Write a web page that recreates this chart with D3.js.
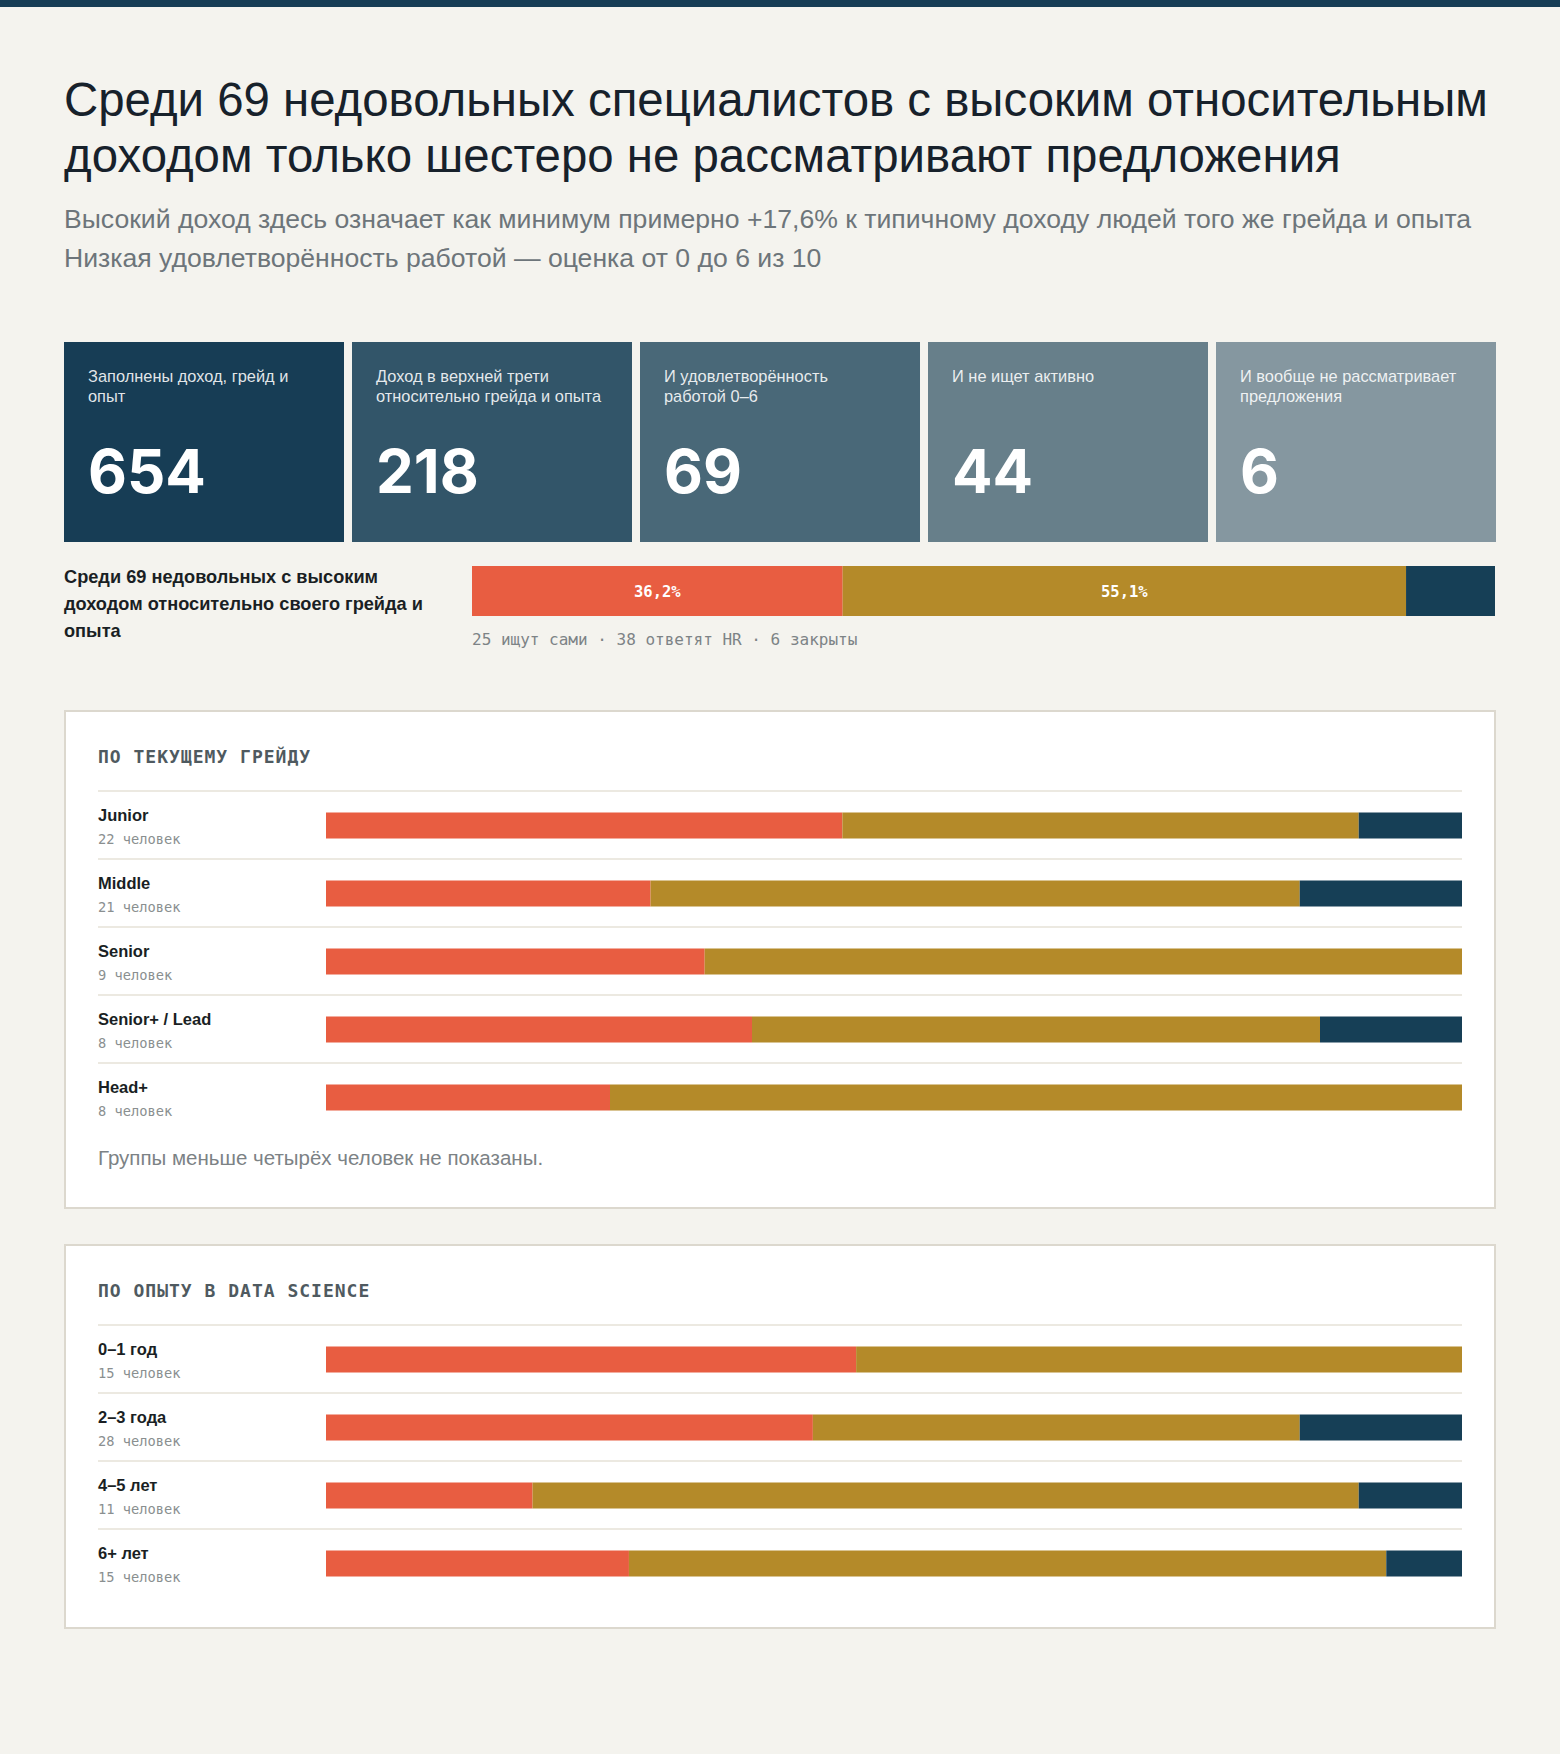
<!DOCTYPE html>
<html lang="ru">
<head>
<meta charset="utf-8">
<script src="https://cdn.jsdelivr.net/npm/d3@7"></script>
<style>
  body { margin: 0; background: #f4f3ee; }
  svg { display: block; }
</style>
</head>
<body>
<svg width="1560" height="1754"></svg>
<script>
// данные
const cardLabels = [
    ["Заполнены доход, грейд и", "опыт"],
    ["Доход в верхней трети", "относительно грейда и опыта"],
    ["И удовлетворённость", "работой 0–6"],
    ["И не ищет активно"],
    ["И вообще не рассматривает", "предложения"]
];
const cardValues = [654, 218, 69, 44, 6];

const statusKeys = ["self", "hr", "closed"];
const statusNames = ["ищут сами", "ответят HR", "закрыты"];
const summaryCounts = [25, 38, 6];

const gradeLabels = ["Junior", "Middle", "Senior", "Senior+ / Lead", "Head+"];
const gradeSelf   = [10, 6, 3, 3, 2];
const gradeHR     = [10, 12, 6, 4, 6];
const gradeClosed = [2, 3, 0, 1, 0];

const expLabels = ["0–1 год", "2–3 года", "4–5 лет", "6+ лет"];
const expSelf   = [7, 12, 2, 4];
const expHR     = [8, 12, 8, 10];
const expClosed = [0, 4, 1, 1];

const titleLines = [
    "Среди 69 недовольных специалистов с высоким относительным",
    "доходом только шестеро не рассматривают предложения"
];
const subtitleLines = [
    "Высокий доход здесь означает как минимум примерно +17,6% к типичному доходу людей того же грейда и опыта",
    "Низкая удовлетворённость работой — оценка от 0 до 6 из 10"
];
const summaryLabel = ["Среди 69 недовольных с высоким", "доходом относительно своего грейда и", "опыта"];
const footnote = "Группы меньше четырёх человек не показаны.";

// оформление
const colors = { self: "#e85d41", hr: "#b48a29", closed: "#163f56" };
const cardColors = ["#173d55", "#325569", "#496878", "#677f8a", "#8597a0"];
const SANS = "'Liberation Sans', Arial, sans-serif";
const NUM = "Inter, 'Liberation Sans', sans-serif";
const MONO = "'DejaVu Sans Mono', monospace";

const svg = d3.select("svg");

svg.append("rect").attr("width", 1560).attr("height", 1754).attr("fill", "#f4f3ee");
svg.append("rect").attr("x", 0).attr("y", 0).attr("width", 1560).attr("height", 7).attr("fill", "#173d55");

// заголовок
svg.append("g").selectAll("text")
    .data(titleLines)
    .join("text")
    .attr("x", 64)
    .attr("y", (d, i) => 116 + i * 56)
    .attr("font-family", SANS)
    .attr("font-size", 47.4)
    .attr("fill", "#17212b")
    .text(d => d);

svg.append("g").selectAll("text")
    .data(subtitleLines)
    .join("text")
    .attr("x", 64)
    .attr("y", (d, i) => 228 + i * 39)
    .attr("font-family", SANS)
    .attr("font-size", 26.6)
    .attr("fill", "#6d757a")
    .text(d => d);

// карточки воронки
const cardX = d3.scaleBand()
    .domain(d3.range(cardValues.length))
    .range([64, 1496])
    .paddingInner(8 / 288);

const cards = svg.append("g").selectAll("g")
    .data(cardValues)
    .join("g")
    .attr("transform", (d, i) => `translate(${cardX(i)}, 342)`);

cards.append("rect")
    .attr("width", cardX.bandwidth())
    .attr("height", 200)
    .attr("fill", (d, i) => cardColors[i]);

cards.each(function(d, i) {
    d3.select(this).selectAll("text.lbl")
        .data(cardLabels[i])
        .join("text")
        .attr("class", "lbl")
        .attr("x", 24)
        .attr("y", (t, j) => 40 + j * 20)
        .attr("font-family", SANS)
        .attr("font-size", 16.4)
        .attr("fill", "rgba(255,255,255,0.88)")
        .text(t => t);
});

cards.append("text")
    .attr("x", 24)
    .attr("y", 151)
    .attr("font-family", NUM)
    .attr("font-weight", "bold")
    .attr("font-size", 60)
    .attr("fill", "#ffffff")
    .text(d => d);

// общая полоса
const total = d3.sum(summaryCounts);
const sumX = d3.scaleLinear().domain([0, total]).range([472, 1495]);
const sumRow = Object.fromEntries(statusKeys.map((k, i) => [k, summaryCounts[i]]));
const sumStack = d3.stack().keys(statusKeys)([sumRow]);

svg.append("g").selectAll("text")
    .data(summaryLabel)
    .join("text")
    .attr("x", 64)
    .attr("y", (d, i) => 583 + i * 27)
    .attr("font-family", SANS)
    .attr("font-weight", "bold")
    .attr("font-size", 18.2)
    .attr("fill", "#1a1f24")
    .text(d => d);

const sumG = svg.append("g");
sumG.selectAll("rect")
    .data(sumStack)
    .join("rect")
    .attr("x", d => sumX(d[0][0]))
    .attr("y", 566)
    .attr("width", d => sumX(d[0][1]) - sumX(d[0][0]))
    .attr("height", 50)
    .attr("fill", d => colors[d.key]);

const fmtPct = v => d3.format(".1f")(v).replace(".", ",") + "%";
sumG.selectAll("text")
    .data(sumStack.filter(d => (d[0][1] - d[0][0]) / total > 0.1))
    .join("text")
    .attr("x", d => (sumX(d[0][0]) + sumX(d[0][1])) / 2)
    .attr("y", 597)
    .attr("text-anchor", "middle")
    .attr("font-family", MONO)
    .attr("font-weight", "bold")
    .attr("font-size", 15.5)
    .attr("fill", "#ffffff")
    .text(d => fmtPct((d[0][1] - d[0][0]) / total * 100));

svg.append("text")
    .attr("x", 472)
    .attr("y", 645)
    .attr("font-family", MONO)
    .attr("font-size", 16)
    .attr("fill", "#7d8386")
    .text(summaryCounts.map((c, i) => `${c} ${statusNames[i]}`).join(" · "));

// панели с разбивкой
function drawPanel(top, title, labels, self, hr, closed, note) {
    const rows = labels.map((l, i) => ({label: l, self: self[i], hr: hr[i], closed: closed[i]}));
    rows.forEach(r => r.n = r.self + r.hr + r.closed);

    const rowH = 68;
    const firstSep = top + 80;
    const height = 80 + rows.length * rowH + (note ? 77 : 31);

    const g = svg.append("g");
    g.append("rect")
        .attr("x", 65).attr("y", top)
        .attr("width", 1430).attr("height", height)
        .attr("fill", "#ffffff")
        .attr("stroke", "#dcd8ce")
        .attr("stroke-width", 2);

    g.append("text")
        .attr("x", 98).attr("y", top + 52)
        .attr("font-family", MONO)
        .attr("font-weight", "bold")
        .attr("font-size", 18)
        .attr("letter-spacing", 1)
        .attr("fill", "#4f5a60")
        .text(title);

    const y = d3.scaleBand()
        .domain(labels)
        .range([firstSep, firstSep + rows.length * rowH]);

    const row = g.selectAll("g.row")
        .data(rows)
        .join("g")
        .attr("class", "row")
        .attr("transform", d => `translate(0, ${y(d.label)})`);

    row.append("line")
        .attr("x1", 98).attr("x2", 1462)
        .attr("y1", 0).attr("y2", 0)
        .attr("stroke", "#ece9e1")
        .attr("stroke-width", 2);

    row.append("text")
        .attr("x", 98).attr("y", 29.5)
        .attr("font-family", SANS)
        .attr("font-weight", "bold")
        .attr("font-size", 16.5)
        .attr("fill", "#1a1f24")
        .text(d => d.label);

    row.append("text")
        .attr("x", 98).attr("y", 53)
        .attr("font-family", MONO)
        .attr("font-size", 13.7)
        .attr("fill", "#8a8f90")
        .text(d => `${d.n} человек`);

    row.each(function(d) {
        const x = d3.scaleLinear().domain([0, d.n]).range([326, 1462]);
        const st = d3.stack().keys(statusKeys)([d]);
        d3.select(this).selectAll("rect")
            .data(st.filter(s => s[0][1] > s[0][0]))
            .join("rect")
            .attr("x", s => x(s[0][0]))
            .attr("y", 21.5)
            .attr("width", s => x(s[0][1]) - x(s[0][0]))
            .attr("height", 26)
            .attr("fill", s => colors[s.key]);
    });

    if (note) {
        g.append("text")
            .attr("x", 98)
            .attr("y", firstSep + rows.length * rowH + 34)
            .attr("font-family", SANS)
            .attr("font-size", 20.5)
            .attr("fill", "#7c8285")
            .text(note);
    }
}

drawPanel(711, "ПО ТЕКУЩЕМУ ГРЕЙДУ", gradeLabels, gradeSelf, gradeHR, gradeClosed, footnote);
drawPanel(1245, "ПО ОПЫТУ В DATA SCIENCE", expLabels, expSelf, expHR, expClosed, null);
</script>
</body>
</html>
